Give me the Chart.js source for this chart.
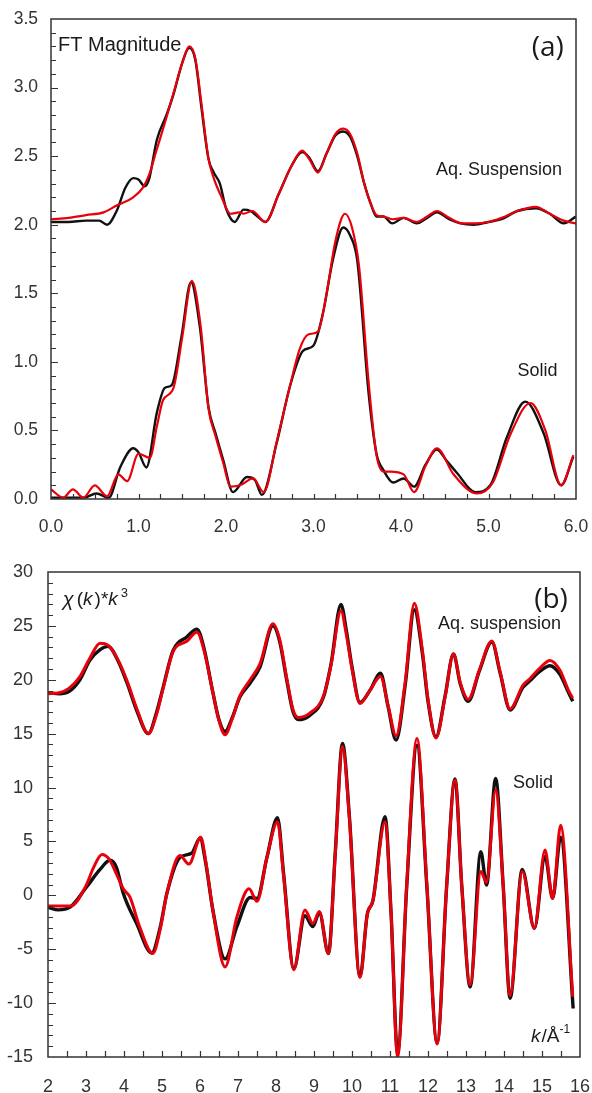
<!DOCTYPE html>
<html>
<head>
<meta charset="utf-8">
<script src="https://cdn.jsdelivr.net/npm/chart.js@4.4.1/dist/chart.umd.min.js"></script>
<style>
  html, body { margin: 0; padding: 0; background: #fff; }
  canvas { display: block; }
</style>
</head>
<body>
<canvas id="ftChart" width="592" height="540"></canvas>
<canvas id="chiChart" width="592" height="553"></canvas>
<script>
/* ---- panel (a): FT magnitude vs R, [R, |FT|] ---- */
const ftAqExp = [
  [0.0, 2.02], [0.2, 2.02], [0.4, 2.03], [0.55, 2.03], [0.64, 2.00], [0.75, 2.10], [0.85, 2.27],
  [0.94, 2.34], [1.0, 2.33], [1.07, 2.28], [1.12, 2.33], [1.21, 2.62], [1.32, 2.80], [1.4, 2.95],
  [1.5, 3.18], [1.58, 3.29], [1.65, 3.20], [1.72, 2.85], [1.8, 2.48], [1.86, 2.38], [1.93, 2.30],
  [2.0, 2.12], [2.1, 2.02], [2.2, 2.11], [2.28, 2.10], [2.36, 2.06], [2.45, 2.02], [2.6, 2.22],
  [2.75, 2.43], [2.87, 2.53], [2.95, 2.49], [3.05, 2.39], [3.15, 2.52], [3.25, 2.65], [3.34, 2.68],
  [3.42, 2.64], [3.5, 2.50], [3.58, 2.30], [3.65, 2.16], [3.72, 2.06], [3.8, 2.06], [3.9, 2.01],
  [4.03, 2.05], [4.18, 2.01], [4.3, 2.05], [4.41, 2.09], [4.55, 2.04], [4.68, 2.01], [4.83, 2.00],
  [5.0, 2.02], [5.15, 2.04], [5.33, 2.10], [5.54, 2.12], [5.7, 2.08], [5.86, 2.01], [6.0, 2.06]
];
const ftAqFit = [
  [0.0, 2.04], [0.2, 2.05], [0.4, 2.07], [0.6, 2.09], [0.75, 2.14], [0.94, 2.20], [1.05, 2.27],
  [1.13, 2.38], [1.2, 2.53], [1.3, 2.74], [1.4, 2.96], [1.5, 3.18], [1.58, 3.30], [1.65, 3.21],
  [1.72, 2.88], [1.8, 2.48], [1.86, 2.34], [1.95, 2.20], [2.05, 2.08], [2.15, 2.09], [2.2, 2.08],
  [2.3, 2.10], [2.45, 2.02], [2.6, 2.22], [2.75, 2.43], [2.87, 2.54], [2.95, 2.48], [3.05, 2.38],
  [3.15, 2.52], [3.25, 2.66], [3.34, 2.70], [3.42, 2.66], [3.5, 2.52], [3.58, 2.30], [3.65, 2.16],
  [3.72, 2.07], [3.8, 2.06], [3.9, 2.04], [4.03, 2.05], [4.18, 2.02], [4.3, 2.06], [4.41, 2.10],
  [4.55, 2.05], [4.7, 2.01], [4.85, 2.01], [5.0, 2.02], [5.15, 2.05], [5.33, 2.10], [5.54, 2.13],
  [5.7, 2.08], [5.86, 2.03], [6.0, 2.01]
];
const ftSolidExp = [
  [0.0, 0.01], [0.2, 0.01], [0.37, 0.01], [0.52, 0.04], [0.66, 0.01], [0.79, 0.23], [0.94, 0.37],
  [1.0, 0.34], [1.09, 0.23], [1.21, 0.63], [1.3, 0.81], [1.38, 0.83], [1.49, 1.18], [1.6, 1.58],
  [1.7, 1.26], [1.8, 0.67], [1.88, 0.48], [1.97, 0.28], [2.08, 0.05], [2.24, 0.16], [2.33, 0.14],
  [2.41, 0.03], [2.58, 0.41], [2.73, 0.82], [2.88, 1.08], [3.0, 1.12], [3.11, 1.36], [3.22, 1.74],
  [3.34, 1.98], [3.42, 1.92], [3.5, 1.74], [3.63, 0.77], [3.72, 0.33], [3.8, 0.21], [3.91, 0.12],
  [4.03, 0.15], [4.15, 0.09], [4.28, 0.25], [4.41, 0.36], [4.52, 0.28], [4.64, 0.19], [4.85, 0.05],
  [5.02, 0.10], [5.21, 0.45], [5.42, 0.71], [5.63, 0.48], [5.83, 0.10], [5.97, 0.31]
];
const ftSolidFit = [
  [0.0, 0.07], [0.14, 0.01], [0.25, 0.07], [0.37, 0.01], [0.5, 0.10], [0.64, 0.02], [0.77, 0.18],
  [0.87, 0.13], [1.0, 0.33], [1.13, 0.30], [1.21, 0.53], [1.28, 0.72], [1.4, 0.81], [1.5, 1.18],
  [1.61, 1.59], [1.71, 1.26], [1.8, 0.66], [1.88, 0.46], [1.97, 0.26], [2.05, 0.09], [2.16, 0.10],
  [2.31, 0.15], [2.43, 0.05], [2.58, 0.42], [2.73, 0.82], [2.84, 1.09], [2.94, 1.20], [3.05, 1.22],
  [3.15, 1.50], [3.25, 1.88], [3.36, 2.08], [3.44, 1.98], [3.52, 1.70], [3.63, 0.85], [3.72, 0.32],
  [3.8, 0.20], [3.88, 0.20], [4.03, 0.18], [4.15, 0.05], [4.28, 0.24], [4.41, 0.37], [4.6, 0.18],
  [4.87, 0.04], [5.05, 0.12], [5.25, 0.47], [5.48, 0.70], [5.65, 0.50], [5.83, 0.10], [5.97, 0.32]
];

/* ---- panel (b): chi(k)*k^3 vs k, [k, value] ---- */
const chiAqExp = [
  [2.0, 18.8], [2.3, 18.7], [2.55, 18.9], [2.84, 20.0], [3.1, 21.8], [3.37, 22.8], [3.58, 23.1],
  [3.85, 21.7], [4.08, 19.7], [4.35, 17.0], [4.64, 15.0], [4.85, 16.9], [5.03, 19.3], [5.29, 22.7],
  [5.66, 24.0], [5.92, 24.7], [6.1, 23.0], [6.34, 18.8], [6.5, 16.3], [6.66, 15.2], [6.85, 16.5],
  [7.05, 18.4], [7.32, 19.7], [7.58, 21.2], [7.92, 25.0], [8.1, 23.5], [8.28, 20.0], [8.45, 17.0],
  [8.59, 16.3], [8.89, 16.7], [9.25, 18.4], [9.45, 21.5], [9.71, 27.0], [9.85, 24.6], [10.0, 21.2],
  [10.21, 17.9], [10.47, 19.0], [10.75, 20.6], [10.95, 17.5], [11.16, 14.4], [11.4, 19.5],
  [11.64, 26.5], [11.85, 22.5], [12.0, 18.0], [12.21, 14.7], [12.45, 18.5], [12.67, 22.4],
  [12.85, 19.6], [13.06, 18.0], [13.35, 20.8], [13.68, 23.5], [13.9, 20.6], [14.16, 17.2],
  [14.5, 19.3], [14.68, 19.9], [14.95, 20.8], [15.21, 21.3], [15.47, 20.5], [15.7, 18.8], [15.81, 18.0]
];
const chiAqFit = [
  [2.0, 18.7], [2.3, 18.8], [2.55, 19.2], [2.84, 20.3], [3.1, 22.0], [3.37, 23.4], [3.58, 23.2],
  [3.85, 21.8], [4.08, 19.9], [4.35, 17.2], [4.64, 15.0], [4.85, 16.7], [5.03, 19.2], [5.29, 22.6],
  [5.66, 23.6], [5.92, 24.4], [6.1, 22.8], [6.34, 18.8], [6.5, 16.2], [6.66, 14.9], [6.85, 16.4],
  [7.05, 18.5], [7.32, 20.0], [7.58, 21.5], [7.92, 25.2], [8.1, 23.7], [8.28, 20.2], [8.45, 17.2],
  [8.59, 16.5], [8.89, 16.9], [9.25, 18.5], [9.45, 21.4], [9.71, 26.4], [9.85, 24.2], [10.0, 21.0],
  [10.21, 17.8], [10.47, 19.0], [10.75, 20.3], [10.95, 17.6], [11.16, 14.8], [11.4, 19.8],
  [11.64, 27.1], [11.85, 22.8], [12.0, 18.2], [12.21, 14.6], [12.45, 18.4], [12.67, 22.4],
  [12.85, 19.7], [13.06, 18.2], [13.35, 20.9], [13.68, 23.6], [13.9, 20.7], [14.16, 17.3],
  [14.5, 19.5], [14.68, 20.1], [14.95, 21.1], [15.21, 21.8], [15.47, 20.9], [15.7, 19.0], [15.81, 18.3]
];
const chiSolidExp = [
  [2.0, -1.1], [2.27, -1.35], [2.58, -1.1], [3.02, 0.8], [3.37, 2.4], [3.63, 3.25], [3.8, 2.6],
  [3.98, 0.2], [4.33, -2.6], [4.73, -5.35], [4.95, -3.0], [5.13, 0.2], [5.47, 3.5], [5.78, 3.9],
  [6.0, 5.3], [6.15, 3.0], [6.34, -1.4], [6.66, -5.9], [6.97, -2.9], [7.32, -0.2], [7.5, -0.3],
  [7.76, 3.5], [8.04, 7.2], [8.2, 2.0], [8.47, -6.8], [8.76, -1.9], [8.97, -2.9], [9.14, -1.6],
  [9.38, -5.4], [9.56, 4.0], [9.75, 14.1], [9.93, 7.4], [10.21, -7.55], [10.4, -1.8], [10.55, -0.5],
  [10.87, 7.3], [11.03, -1.8], [11.2, -14.6], [11.44, 0.8], [11.71, 13.9], [11.97, 0.8], [12.24, -13.7],
  [12.49, 0.8], [12.71, 10.8], [12.89, 0.8], [13.11, -8.5], [13.39, 4.05], [13.54, 0.96], [13.78, 10.85],
  [13.98, 0.8], [14.16, -9.55], [14.48, 2.4], [14.8, -3.06], [15.08, 3.6], [15.28, -0.28], [15.49, 5.4],
  [15.82, -10.5]
];
const chiSolidFit = [
  [2.0, -1.0], [2.3, -1.0], [2.6, -1.0], [3.0, 0.9], [3.2, 2.6], [3.42, 3.8], [3.6, 3.4], [3.8, 2.0],
  [3.98, 0.6], [4.16, -0.2], [4.4, -2.8], [4.76, -5.4], [4.95, -3.2], [5.13, 0.2], [5.47, 3.7],
  [5.71, 2.9], [6.02, 5.4], [6.15, 3.2], [6.34, -1.4], [6.66, -6.65], [6.97, -2.0], [7.29, 0.6],
  [7.5, -0.55], [7.76, 3.5], [8.04, 6.8], [8.2, 1.8], [8.47, -6.9], [8.76, -1.36], [8.97, -2.6],
  [9.14, -1.5], [9.38, -5.4], [9.56, 3.8], [9.75, 13.8], [9.93, 7.2], [10.21, -7.6], [10.4, -1.8],
  [10.55, -0.5], [10.87, 6.8], [11.03, -1.8], [11.2, -15.0], [11.44, 1.0], [11.71, 14.56], [11.97, 1.0],
  [12.24, -13.8], [12.49, 0.8], [12.71, 10.7], [12.89, 0.8], [13.11, -8.3], [13.39, 2.2], [13.54, 1.2],
  [13.78, 9.77], [13.98, 0.8], [14.16, -9.3], [14.48, 2.2], [14.8, -3.06], [15.08, 4.2], [15.28, -0.3],
  [15.49, 6.5], [15.81, -9.4]
];

const SANS = '"Liberation Sans", Arial, sans-serif';
const BLACK = '#111111';
const RED = '#e8000b';

const pts = arr => arr.map(p => ({ x: p[0], y: p[1] }));

function line(data, color, width, order) {
  return {
    data: pts(data), borderColor: color, borderWidth: width, pointRadius: 0,
    cubicInterpolationMode: 'monotone', fill: false, order: order
  };
}

// frame box, inward ticks and the in-plot notes
const frame = {
  id: 'frame',
  afterDraw(chart, args, o) {
    const { ctx, chartArea: a, scales: { x, y } } = chart;
    ctx.save();
    ctx.strokeStyle = '#333';
    ctx.lineWidth = 1.5;
    ctx.strokeRect(a.left, a.top, a.right - a.left, a.bottom - a.top);
    ctx.lineWidth = 1.2;
    ctx.beginPath();
    let n = Math.round((x.max - x.min) / o.xMinor);
    for (let i = 1; i < n; i++) {
      const px = Math.round(x.getPixelForValue(x.min + i * o.xMinor)) + 0.5;
      ctx.moveTo(px, a.bottom); ctx.lineTo(px, a.bottom - o.xTick);
    }
    n = Math.round((y.max - y.min) / o.yMinor);
    for (let i = 1; i < n; i++) {
      const py = Math.round(y.getPixelForValue(y.min + i * o.yMinor)) + 0.5;
      const major = i % o.yEvery === 0;
      ctx.moveTo(a.left, py); ctx.lineTo(a.left + (major ? o.yMajorTick : o.yTick), py);
    }
    ctx.stroke();

    ctx.fillStyle = '#1a1a1a';
    ctx.textBaseline = 'middle';
    (o.notes || []).forEach(nt => {
      const parts = nt.parts;
      let w = 0;
      parts.forEach(p => { ctx.font = p.f; w += ctx.measureText(p.t).width + (p.gap || 0); });
      let px = x.getPixelForValue(nt.x);
      if (nt.align === 'right') px -= w;
      const py = y.getPixelForValue(nt.y);
      ctx.textAlign = 'left';
      parts.forEach(p => {
        ctx.font = p.f;
        ctx.fillText(p.t, px, py + (p.dy || 0));
        px += ctx.measureText(p.t).width + (p.gap || 0);
      });
    });
    ctx.restore();
  }
};

function axes(xMin, xMax, xStep, yMin, yMax, yStep, fmt, yWidth, xHeight, fontSize, xPad, yPad) {
  const tickFont = { family: SANS, size: fontSize };
  return {
    x: {
      type: 'linear', min: xMin, max: xMax,
      grid: { display: false }, border: { display: false },
      ticks: { stepSize: xStep, autoSkip: false, maxRotation: 0, color: '#333', font: tickFont,
               padding: xPad, callback: v => fmt(v) },
      afterFit: s => { s.height = xHeight; s.paddingLeft = 0; s.paddingRight = 0; }
    },
    y: {
      type: 'linear', min: yMin, max: yMax,
      grid: { display: false }, border: { display: false },
      ticks: { stepSize: yStep, autoSkip: false, color: '#333', font: tickFont,
               padding: yPad, callback: v => fmt(v) },
      afterFit: s => { s.width = yWidth; s.paddingTop = 0; s.paddingBottom = 0; }
    }
  };
}

new Chart(document.getElementById('ftChart'), {
  type: 'line',
  data: {
    datasets: [
      line(ftAqFit, RED, 2.2, 0),
      line(ftSolidFit, RED, 2.2, 0),
      line(ftAqExp, BLACK, 2.4, 1),
      line(ftSolidExp, BLACK, 2.4, 1)
    ]
  },
  options: {
    responsive: false, animation: false, devicePixelRatio: 1,
    layout: { padding: { top: 19, right: 16, left: 0, bottom: 0 } },
    scales: axes(0, 6, 1, 0, 3.5, 0.5, v => v.toFixed(1), 51, 41, 17.5, 10, 5),
    plugins: {
      legend: { display: false }, tooltip: { enabled: false },
      frame: {
        xMinor: 0.25, xTick: 5, yMinor: 0.1, yEvery: 5, yTick: 5, yMajorTick: 7,
        notes: [
          { x: 0.08, y: 3.31, parts: [{ t: 'FT Magnitude', f: '20px ' + SANS }] },
          { x: 5.86, y: 3.29, align: 'right', parts: [{ t: '(a)', f: '28px "Open Sans", sans-serif' }] },
          { x: 5.84, y: 2.40, align: 'right', parts: [{ t: 'Aq. Suspension', f: '18px ' + SANS }] },
          { x: 5.79, y: 0.93, align: 'right', parts: [{ t: 'Solid', f: '18px ' + SANS }] }
        ]
      }
    }
  },
  plugins: [frame]
});

new Chart(document.getElementById('chiChart'), {
  type: 'line',
  data: {
    datasets: [
      line(chiAqFit, RED, 3, 0),
      line(chiSolidFit, RED, 3, 0),
      line(chiAqExp, BLACK, 3.4, 1),
      line(chiSolidExp, BLACK, 3.4, 1)
    ]
  },
  options: {
    responsive: false, animation: false, devicePixelRatio: 1,
    layout: { padding: { top: 32, right: 12, left: 0, bottom: 0 } },
    scales: axes(2, 16, 1, -15, 30, 5, v => String(v), 48, 36, 18, 11, 7),
    plugins: {
      legend: { display: false }, tooltip: { enabled: false },
      frame: {
        xMinor: 0.5, xTick: 6, yMinor: 1, yEvery: 5, yTick: 5, yMajorTick: 8,
        notes: [
          { x: 2.39, y: 27.4, parts: [
            { t: 'χ', f: 'italic 20px ' + SANS, gap: 3 },
            { t: '(', f: '19px ' + SANS },
            { t: 'k', f: 'italic 19px ' + SANS, gap: 2 },
            { t: ')*', f: '19px ' + SANS },
            { t: 'k', f: 'italic 19px ' + SANS, gap: 3 },
            { t: '3', f: '13px ' + SANS, dy: -7 }
          ] },
          { x: 15.68, y: 27.4, align: 'right', parts: [{ t: '(b)', f: '28px "Open Sans", sans-serif' }] },
          { x: 15.5, y: 25.17, align: 'right', parts: [{ t: 'Aq. suspension', f: '18px ' + SANS }] },
          { x: 15.29, y: 10.42, align: 'right', parts: [{ t: 'Solid', f: '18px ' + SANS }] },
          { x: 15.74, y: -13.14, align: 'right', parts: [
            { t: 'k', f: 'italic 19px ' + SANS, gap: 1 },
            { t: '/Å', f: '19px ' + SANS },
            { t: '-1', f: '12px ' + SANS, dy: -7 }
          ] }
        ]
      }
    }
  },
  plugins: [frame]
});
</script>
</body>
</html>
